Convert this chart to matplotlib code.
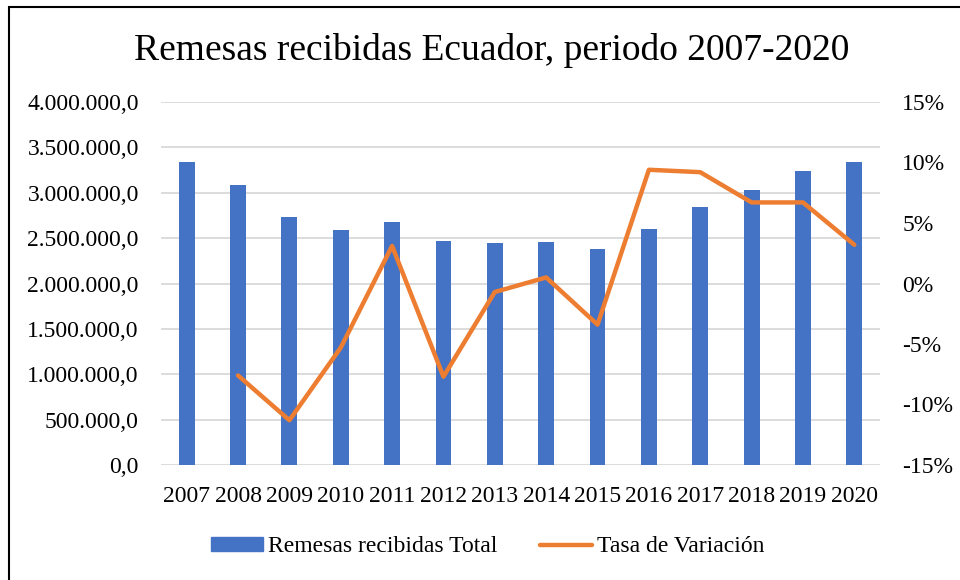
import matplotlib

matplotlib.use("Agg")
import matplotlib.pyplot as plt
from matplotlib.patches import Rectangle
from matplotlib.lines import Line2D
from matplotlib.ticker import FuncFormatter, MultipleLocator

plt.rcParams["font.family"] = ["Liberation Serif", "DejaVu Serif"]

# Datos
years = ["2007", "2008", "2009", "2010", "2011", "2012", "2013",
         "2014", "2015", "2016", "2017", "2018", "2019", "2020"]
remesas = [3335400, 3082600, 2735500, 2591500, 2672400, 2466900, 2449500,
           2461700, 2377800, 2602000, 2840200, 3030600, 3234700, 3337900]
# Tasa de variación (%), sin dato para 2007
tasa_years = years[1:]
tasa = [-7.6, -11.3, -5.3, 3.1, -7.7, -0.7, 0.5, -3.4, 9.4, 9.2, 6.7, 6.7, 3.2]

BLUE = "#4472C4"
ORANGE = "#ED7D31"
GRID = "#D9D9D9"


def fmt_miles(v, pos):
    s = f"{v:,.1f}"
    return s.replace(",", "X").replace(".", ",").replace("X", ".")


fig = plt.figure(figsize=(9.6, 5.8), dpi=100)
ax = fig.add_axes([161 / 960, 1 - 465 / 580, (880 - 161) / 960, (465 - 102) / 580])

x = range(len(years))
ax.bar(x, remesas, width=0.31, color=BLUE, zorder=2)
ax.set_ylim(0, 4_000_000)
ax.yaxis.set_major_locator(MultipleLocator(500_000))
ax.yaxis.set_major_formatter(FuncFormatter(fmt_miles))
ax.set_xlim(-0.5, len(years) - 0.5)
ax.set_xticks(list(x))
ax.set_xticklabels(years)
ax.grid(axis="y", color=GRID, linewidth=1.3, zorder=0)
ax.set_axisbelow(True)
for s in ax.spines.values():
    s.set_visible(False)
ax.tick_params(axis="both", length=0, labelsize=17, colors="black")
ax.tick_params(axis="y", pad=16)
ax.tick_params(axis="x", pad=15)

ax2 = ax.twinx()
tx = [years.index(y) for y in tasa_years]
ax2.plot(tx, tasa, color=ORANGE, linewidth=3.2, solid_capstyle="round",
         solid_joinstyle="round", zorder=3)
ax2.set_ylim(-15, 15)
ax2.yaxis.set_major_locator(MultipleLocator(5))
ax2.yaxis.set_major_formatter(FuncFormatter(lambda v, p: f"{v:.0f}%"))
for s in ax2.spines.values():
    s.set_visible(False)
ax2.tick_params(axis="y", length=0, labelsize=17, pad=16)

fig.text(0.5 + 12 / 960, 1 - 51 / 580, "Remesas recibidas Ecuador, periodo 2007-2020",
         ha="center", va="center", fontsize=27)

handles = [
    Rectangle((0, 0), 1, 1, color=BLUE),
    Line2D([0], [0], color=ORANGE, linewidth=3.2, solid_capstyle="round"),
]
fig.legend(handles, ["Remesas recibidas Total", "Tasa de Variación"],
           loc="center", bbox_to_anchor=(0.508, 1 - 547 / 580), ncol=2,
           frameon=False, fontsize=17, handlelength=2.2, handleheight=0.5,
           handletextpad=0.2, columnspacing=1.8)

# Borde del gráfico (sólo izquierda y arriba visibles)
fig.add_artist(Rectangle((9 / 960, -0.05), 1.1, 1 - 7 / 580 + 0.05,
                         transform=fig.transFigure, fill=False,
                         edgecolor="black", linewidth=1.5))

fig.savefig("out.png", dpi=100)
